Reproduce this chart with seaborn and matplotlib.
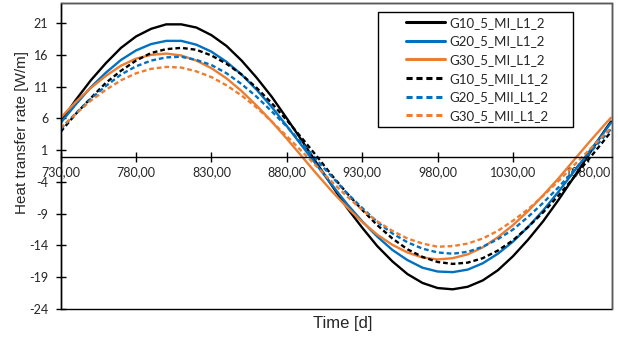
import matplotlib
matplotlib.use("Agg")
import matplotlib.pyplot as plt
from matplotlib.patches import Rectangle
import pandas as pd
import seaborn as sns

# Time axis [d]
days = list(range(730, 1091, 10)) + [1095]

# Heat transfer rate [W/m] per configuration
g10_mi = [5.5, 8.9, 12.0, 14.7, 17.1, 18.9, 20.1, 20.8, 20.8, 20.3, 19.1, 17.4, 15.1, 12.4, 9.4, 6.0, 2.5, -1.1, -4.6, -8.1,
          -11.2, -14.1, -16.5, -18.5, -19.9, -20.7, -20.9, -20.5, -19.5, -17.9, -15.7, -13.1, -10.2, -6.9, -3.4, 0.2, 3.8, 5.5]
g20_mi = [5.3, 8.2, 10.9, 13.2, 15.2, 16.7, 17.7, 18.2, 18.2, 17.6, 16.5, 14.9, 12.9, 10.5, 7.8, 4.8, 1.7, -1.4, -4.5, -7.5,
          -10.2, -12.6, -14.7, -16.3, -17.5, -18.1, -18.2, -17.8, -16.8, -15.3, -13.4, -11.1, -8.5, -5.6, -2.5, 0.6, 3.7, 5.3]
g30_mi = [6.1, 8.6, 10.8, 12.7, 14.3, 15.4, 16.0, 16.2, 15.9, 15.1, 13.9, 12.3, 10.3, 8.0, 5.5, 2.8, 0.0, -2.8, -5.5, -8.0,
          -10.3, -12.3, -13.9, -15.1, -15.9, -16.2, -16.0, -15.4, -14.3, -12.7, -10.8, -8.6, -6.1, -3.5, -0.7, 2.1, 4.8, 6.1]
g10_mii = [3.9, 6.7, 9.2, 11.6, 13.5, 15.1, 16.3, 16.9, 17.1, 16.8, 15.9, 14.6, 12.9, 10.8, 8.4, 5.7, 2.9, -0.0, -3.0, -5.8,
           -8.4, -10.8, -12.9, -14.6, -15.8, -16.6, -16.9, -16.7, -16.0, -14.8, -13.2, -11.1, -8.8, -6.2, -3.4, -0.5, 2.4, 3.9]
g20_mii = [4.3, 6.8, 9.1, 11.1, 12.9, 14.2, 15.1, 15.6, 15.7, 15.2, 14.4, 13.1, 11.4, 9.4, 7.1, 4.7, 2.1, -0.6, -3.2, -5.8,
           -8.1, -10.3, -12.1, -13.5, -14.5, -15.1, -15.3, -15.0, -14.2, -13.0, -11.5, -9.5, -7.3, -4.9, -2.3, 0.3, 3.0, 4.3]
g30_mii = [4.5, 6.7, 8.8, 10.5, 12.0, 13.1, 13.8, 14.1, 14.0, 13.4, 12.5, 11.2, 9.6, 7.7, 5.5, 3.2, 0.8, -1.6, -4.0, -6.3,
           -8.4, -10.2, -11.7, -12.9, -13.7, -14.2, -14.1, -13.7, -12.9, -11.7, -10.1, -8.3, -6.2, -3.9, -1.5, 0.9, 3.3, 4.5]

series_names = ["G10_5_MI_L1_2", "G20_5_MI_L1_2", "G30_5_MI_L1_2",
                "G10_5_MII_L1_2", "G20_5_MII_L1_2", "G30_5_MII_L1_2"]
series_values = [g10_mi, g20_mi, g30_mi, g10_mii, g20_mii, g30_mii]

x_ticks = [730, 780, 830, 880, 930, 980, 1030, 1080]
y_ticks = [-24, -19, -14, -9, -4, 1, 6, 11, 16, 21]

df = pd.DataFrame({
    "day": days * len(series_names),
    "rate": [v for vals in series_values for v in vals],
    "series": [n for n in series_names for _ in days],
})

black, blue, orange = "#000000", "#0070C0", "#ED7D31"
palette = dict(zip(series_names, [black, blue, orange, black, blue, orange]))
dash = (2.0, 1.25)
dashes = dict(zip(series_names, ["", "", "", dash, dash, dash]))

sns.set_theme(style="white")
plt.rcParams["font.family"] = ["Lato", "DejaVu Sans"]
label_font = ["Liberation Sans", "DejaVu Sans"]

fig = plt.figure(figsize=(6.18, 3.39), dpi=100)
ax = fig.add_axes([0.0982, 0.0885, 0.8916, 0.9015])

sns.lineplot(data=df, x="day", y="rate", hue="series", style="series",
             palette=palette, dashes=dashes, linewidth=1.7, ax=ax,
             legend=False, sort=False)

ax.set_xlim(730, 1095.5)
ax.set_ylim(-24, 24.1)

ax.set_xticks(x_ticks)
ax.set_xticklabels([f"{t:.2f}".replace(".", ",") for t in x_ticks])
ax.set_yticks(y_ticks)
ax.set_yticklabels([str(t) for t in y_ticks])

# x axis runs through zero, plot area keeps its full border
ax.spines["bottom"].set_position(("data", 0))
for s in ax.spines.values():
    s.set_color("black")
    s.set_linewidth(1.0)
ax.spines["top"].set_color("#595959")
ax.spines["right"].set_color("#595959")
ax.add_patch(Rectangle((0, 0), 1, 1, transform=ax.transAxes, fill=False,
                       edgecolor="black", linewidth=1.0, clip_on=False, zorder=0))

ax.tick_params(axis="x", direction="inout", length=7, width=1, color="black",
               pad=3.5, labelsize=9, labelcolor="#262626", bottom=True)
ax.tick_params(axis="y", direction="inout", length=7, width=1, color="black",
               pad=5.5, labelsize=9, labelcolor="#262626", left=True)

ax.set_xlabel("Time [d]", fontsize=12, family=label_font, color="#262626")
ax.xaxis.set_label_coords(0.511, -0.046)
ax.xaxis.label.set_va("center")
ax.set_ylabel("Heat transfer rate [W/m]", fontsize=11, family=label_font, color="#262626")
ax.yaxis.set_label_coords(-0.070, 0.576)
ax.yaxis.label.set_va("center")

# legend box with wide side margins
ax.add_patch(Rectangle((0.5759, 0.5963), 0.3539, 0.3743, transform=ax.transAxes,
                       facecolor="white", edgecolor="black", linewidth=1.0, zorder=4))
handles = [plt.Line2D([], [], color=palette[n], linewidth=2.2,
                      linestyle="-" if dashes[n] == "" else (0, dash)) for n in series_names]
leg = ax.legend(handles, series_names, loc="center", bbox_to_anchor=(0.7564, 0.7844),
                borderaxespad=0, frameon=False, fontsize=9.5, handlelength=2.9,
                handletextpad=0.38, labelspacing=0.5, borderpad=0)
leg.set_zorder(5)
for t in leg.get_texts():
    t.set_color("#262626")

fig.savefig("out.png", dpi=100)
